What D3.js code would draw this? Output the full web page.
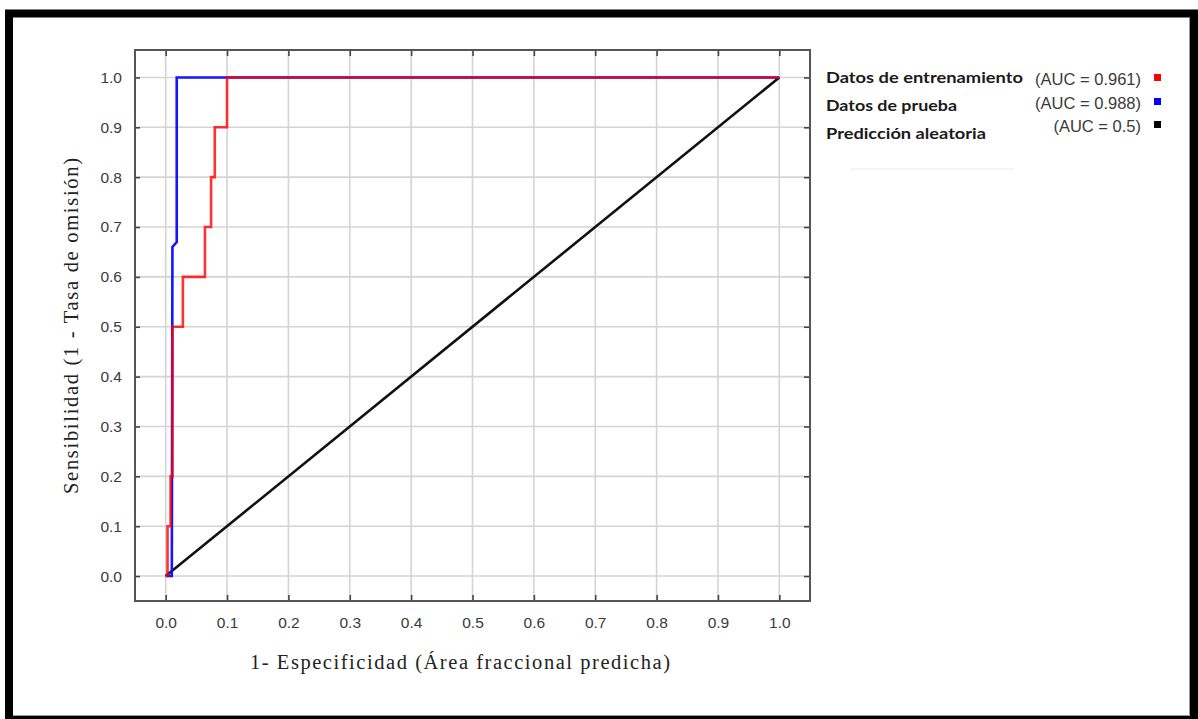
<!DOCTYPE html>
<html>
<head>
<meta charset="utf-8">
<script src="https://cdn.jsdelivr.net/npm/d3@7"></script>
<style>
  html, body { margin: 0; padding: 0; background: #fff; }
  svg { display: block; }
</style>
</head>
<body>
<svg id="chart" width="1198" height="719"></svg>
<script>
// ROC curves: false positive rate (1 - specificity) vs sensitivity
const trainFpr = [0, 0.003, 0.003, 0.008, 0.008, 0.011, 0.011, 0.028, 0.028, 0.064, 0.064, 0.074, 0.074, 0.080, 0.080, 0.100, 0.100, 1.0];
const trainTpr = [0, 0,     0.1,   0.1,   0.2,   0.2,   0.5,   0.5,   0.6,   0.6,   0.7,   0.7,   0.8,   0.8,   0.9,   0.9,   1.0,   1.0];
const testFpr  = [0, 0.010, 0.011, 0.018, 0.018, 1.0];
const testTpr  = [0, 0,     0.660, 0.670, 1.0,   1.0];
const randFpr  = [0, 1];
const randTpr  = [0, 1];

const tickValues = [0, 0.1, 0.2, 0.3, 0.4, 0.5, 0.6, 0.7, 0.8, 0.9, 1.0];
const legendNames = ["Datos de entrenamiento", "Datos de prueba", "Predicción aleatoria"];
const legendAuc = ["(AUC = 0.961)", "(AUC = 0.988)", "(AUC = 0.5)"];
const legendColors = ["#ff0000", "#0000ff", "#000000"];

const svg = d3.select("#chart");

// outer frame
svg.append("rect")
  .attr("x", 9).attr("y", 13.5).attr("width", 1185).attr("height", 706.5)
  .attr("fill", "#fff").attr("stroke", "#000").attr("stroke-width", 8);
svg.append("path")
  .attr("d", "M1189.5,18 V715.5 H13")
  .attr("fill", "none").attr("stroke", "#9a9a9a").attr("stroke-width", 1);

const plotLeft = 135, plotRight = 810, plotTop = 50, plotBottom = 601;
const x = d3.scaleLinear().domain([-0.05, 1.05]).range([plotLeft, plotRight]);
const y = d3.scaleLinear().domain([-0.05, 1.055]).range([plotBottom, plotTop]);

// grid
const grid = svg.append("g");
grid.selectAll("line.gx").data(tickValues).join("line")
  .attr("class", "gx")
  .attr("x1", d => x(d)).attr("x2", d => x(d))
  .attr("y1", plotTop).attr("y2", plotBottom)
  .attr("stroke", "#d4d4d4").attr("stroke-width", 1.6);
grid.selectAll("line.gy").data(tickValues).join("line")
  .attr("class", "gy")
  .attr("y1", d => y(d)).attr("y2", d => y(d))
  .attr("x1", plotLeft).attr("x2", plotRight)
  .attr("stroke", "#d4d4d4").attr("stroke-width", 1.6);

// axes with inward ticks on all four sides
const fmt = d3.format(".1f");
const axisStyle = g => {
  g.select(".domain").remove();
  g.selectAll(".tick line").attr("stroke", "#444").attr("stroke-width", 1.6);
  g.selectAll(".tick text")
    .attr("font-family", "'Liberation Sans', Arial, sans-serif")
    .attr("font-size", 15.5).attr("fill", "#3a3a3a");
};
svg.append("g").attr("transform", `translate(0,${plotBottom})`)
  .call(d3.axisBottom(x).tickValues(tickValues).tickFormat(fmt).tickSizeInner(-6).tickPadding(16))
  .call(axisStyle);
svg.append("g").attr("transform", `translate(0,${plotTop})`)
  .call(d3.axisTop(x).tickValues(tickValues).tickFormat(() => "").tickSizeInner(-6))
  .call(axisStyle);
svg.append("g").attr("transform", `translate(${plotLeft},0)`)
  .call(d3.axisLeft(y).tickValues(tickValues).tickFormat(fmt).tickSizeInner(-5).tickPadding(13))
  .call(axisStyle);
svg.append("g").attr("transform", `translate(${plotRight},0)`)
  .call(d3.axisRight(y).tickValues(tickValues).tickFormat(() => "").tickSizeInner(-6))
  .call(axisStyle);

// plot frame
svg.append("rect")
  .attr("x", plotLeft).attr("y", plotTop)
  .attr("width", plotRight - plotLeft).attr("height", plotBottom - plotTop)
  .attr("fill", "none").attr("stroke", "#555").attr("stroke-width", 2);

// curves
const line = d3.line().x(d => x(d[0])).y(d => y(d[1]));
const curves = [
  { fpr: randFpr, tpr: randTpr, color: "#111111", opacity: 1 },
  { fpr: testFpr, tpr: testTpr, color: "#1414ff", opacity: 1 },
  { fpr: trainFpr, tpr: trainTpr, color: "#ff0000", opacity: 0.8 }
];
svg.append("g").selectAll("path").data(curves).join("path")
  .attr("d", c => line(d3.zip(c.fpr, c.tpr)))
  .attr("fill", "none")
  .attr("stroke", c => c.color)
  .attr("stroke-opacity", c => c.opacity)
  .attr("stroke-width", 2.6)
  .attr("stroke-linejoin", "miter");

// axis titles
svg.append("text")
  .attr("x", 460).attr("y", 669)
  .attr("text-anchor", "middle")
  .attr("font-family", "'Liberation Serif', 'Times New Roman', serif")
  .attr("font-size", 20.5).attr("fill", "#222")
  .attr("textLength", 420).attr("lengthAdjust", "spacing")
  .text("1- Especificidad (Área fraccional predicha)");
svg.append("text")
  .attr("transform", "translate(78,326) rotate(-90)")
  .attr("text-anchor", "middle")
  .attr("font-family", "'Liberation Serif', 'Times New Roman', serif")
  .attr("font-size", 20.5).attr("fill", "#222")
  .attr("textLength", 336).attr("lengthAdjust", "spacing")
  .text("Sensibilidad (1 - Tasa de omisión)");

// legend
const nameY = [83, 111, 139];
const aucY = [85, 109, 132];
const nameWidths = [197, 131, 160];
const legend = svg.append("g");
legend.selectAll("text.name").data(legendNames).join("text")
  .attr("class", "name")
  .attr("x", 826).attr("y", (d, i) => nameY[i])
  .attr("font-family", "Lato, 'Open Sans', sans-serif")
  .attr("font-weight", 700).attr("font-size", 16).attr("fill", "#1a1a1a")
  .attr("textLength", (d, i) => nameWidths[i]).attr("lengthAdjust", "spacingAndGlyphs")
  .text(d => d);
legend.selectAll("text.auc").data(legendAuc).join("text")
  .attr("class", "auc")
  .attr("x", 1141).attr("y", (d, i) => aucY[i])
  .attr("text-anchor", "end")
  .attr("font-family", "'Liberation Sans', Arial, sans-serif")
  .attr("font-size", 16.5).attr("fill", "#3a3a3a")
  .text(d => d);
legend.selectAll("rect").data(legendColors).join("rect")
  .attr("x", 1154).attr("y", (d, i) => aucY[i] - 11)
  .attr("width", 7).attr("height", 7)
  .attr("fill", d => d);
legend.append("line")
  .attr("x1", 850).attr("x2", 1015).attr("y1", 169).attr("y2", 169)
  .attr("stroke", "#f2f2f2").attr("stroke-width", 1.5);
</script>
</body>
</html>
